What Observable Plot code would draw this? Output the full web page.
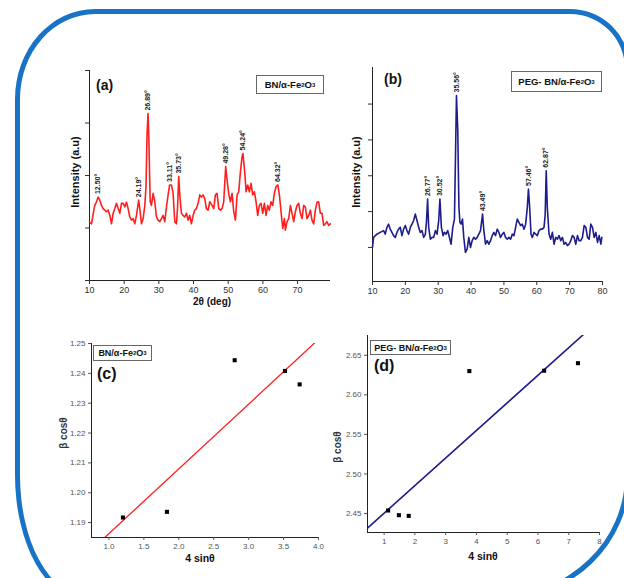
<!DOCTYPE html>
<html><head><meta charset="utf-8">
<script src="https://cdn.jsdelivr.net/npm/d3@7"></script>
<script src="https://cdn.jsdelivr.net/npm/@observablehq/plot@0.6"></script>
<style>
body{margin:0;background:#fff;font-family:"Liberation Sans",Arial,sans-serif;}
#root{position:relative;width:624px;height:578px;overflow:hidden;background:#fff;}
.border{position:absolute;left:15px;top:9px;width:615px;height:591px;box-sizing:border-box;border:5px solid #1872c6;border-radius:80px 60px 130px 70px / 90px 60px 125px 125px;}
.lbl{position:absolute;font-weight:bold;color:#111;white-space:nowrap;line-height:1;}
.rot{transform:translate(-50%,-50%) rotate(-90deg);}
.ctr{transform:translate(-50%,-50%);}
.box{position:absolute;border:1px solid #666;background:#fff;font-weight:bold;font-size:9.5px;color:#111;display:flex;align-items:center;justify-content:center;white-space:nowrap;box-sizing:border-box;}
.box sub{font-size:6px;vertical-align:-2px;}
.tag{position:absolute;font-weight:bold;color:#111;line-height:1;}
</style></head>
<body><div id="root"><div class="border"></div></div>
<script>
// ---- (a) XRD BN/α-Fe2O3 ----
const twoThetaA = [10,10.58,11.25,11.54,12.02,12.5,12.98,13.46,13.94,14.42,14.9,15.38,15.86,16.34,16.82,17.3,17.78,18.26,18.74,19.22,19.7,20.18,20.66,21.14,21.62,22.1,22.58,23.06,23.54,24.19,24.5,24.99,25.47,25.95,26.3,26.6,26.89,27.15,27.5,27.87,28.35,28.83,29.31,29.79,30.27,30.75,31.23,31.71,32.19,32.67,33.11,33.63,34.11,34.59,35.07,35.4,35.73,36.03,36.51,36.99,37.47,37.95,38.43,38.91,39.39,39.87,40.35,40.84,41.32,41.8,42.28,42.76,43.24,43.72,44.2,44.68,45.35,45.83,46.31,46.79,47.27,47.75,48.23,48.71,49.0,49.28,49.7,50.15,50.63,51.11,51.6,52.08,52.56,53.04,53.52,54.0,54.24,54.76,55.15,55.63,56.11,56.59,57.07,57.55,58.03,58.51,58.99,59.47,59.95,60.43,60.91,61.39,61.87,62.35,62.83,63.31,63.8,64.32,64.76,65.24,65.72,66.2,66.49,66.97,67.45,67.93,68.41,68.89,69.37,69.85,70.33,70.81,71.29,71.77,72.25,72.73,73.21,73.69,74.17,74.65,75.13,75.61,76.09,76.57,77.05,77.53,78.01,78.49,78.97,79.45];
const intensityA = [112,108,134,143,150,159,153,143,137,134,131,134,124,108,128,137,147,137,128,147,147,140,149,137,121,115,118,108,124,153,137,108,118,143,180,280,318,260,150,143,166,150,121,115,112,118,124,112,140,163,182,182,166,112,108,140,198,163,128,124,121,128,115,124,108,124,134,137,147,163,159,163,156,137,134,150,143,137,163,166,137,134,137,150,185,217,190,165,150,166,131,115,163,169,207,236,242,207,169,182,169,185,163,169,150,124,143,147,128,147,124,143,134,150,143,166,179,182,163,131,99,118,96,112,118,143,128,112,131,143,147,128,118,143,140,118,124,134,115,108,134,149,150,128,128,105,108,112,105,108];
const peaksA = [12.50, 24.19, 26.89, 33.11, 35.73, 49.28, 54.24, 64.32];
const xTicksA = [10,20,30,40,50,60,70];
const yTicksA = [0,100,200,300,400];

// ---- (b) XRD PEG- BN/α-Fe2O3 ----
const twoThetaB = [10,10.32,11.33,12.35,13.37,13.88,14.39,14.9,15.4,15.91,16.42,16.93,17.44,17.95,18.46,18.96,19.47,19.98,20.49,21.0,21.51,22.02,22.52,23.03,23.54,24.05,24.56,25.07,25.58,26.09,26.45,26.77,27.1,27.61,28.12,28.63,29.14,29.65,30.15,30.52,30.97,31.48,31.88,32.39,32.9,33.41,33.92,34.43,34.94,35.3,35.56,35.95,36.3,36.6,36.97,37.38,37.78,38.29,38.8,39.31,39.82,40.33,40.84,41.34,41.85,42.36,42.87,43.49,43.89,44.4,44.91,45.41,45.92,46.43,46.94,47.45,47.96,48.47,48.98,49.49,50.0,50.5,51.01,51.52,52.03,52.54,53.05,53.56,54.06,54.57,55.08,55.59,56.1,56.61,57.12,57.46,57.83,58.24,58.64,59.15,59.66,60.17,60.68,61.19,61.69,62.2,62.55,62.87,63.2,63.73,64.24,64.75,65.25,65.76,66.27,66.78,67.29,67.8,68.31,68.81,69.32,69.83,70.34,70.85,71.36,71.87,72.38,72.88,73.39,73.9,74.41,74.92,75.43,75.94,76.44,76.95,77.46,77.97,78.48,78.99,79.5,79.8];
const intensityB = [100,128,137,142,147,137,156,165,151,142,133,128,142,151,156,133,151,161,147,137,156,165,175,193,175,156,142,147,128,137,175,235,156,123,128,128,147,137,175,235,156,133,142,137,147,128,109,156,179,379,524,426,212,170,165,179,128,86,95,128,100,119,128,123,128,137,147,193,147,109,119,109,119,133,142,133,151,142,128,137,142,128,123,128,123,137,133,156,179,170,161,165,151,165,212,263,212,137,128,142,137,133,147,151,151,156,190,314,212,137,123,142,109,128,123,133,119,128,109,114,105,109,119,133,128,109,133,119,119,128,161,156,128,123,165,156,128,142,114,133,109,128];
const peaksB = [26.77, 30.52, 35.56, 43.49, 57.46, 62.87];
const xTicksB = [10,20,30,40,50,60,70,80];
const yTicksB = [100,200,300,400,500];

// ---- (c) Williamson-Hall BN/α-Fe2O3 ----
const sinC = [1.20, 1.83, 2.80, 3.52, 3.73];
const cosC = [1.1917, 1.1936, 1.2444, 1.2408, 1.2363];
const xTicksC = [1.0,1.5,2.0,2.5,3.0,3.5,4.0];
const yTicksC = [1.19,1.20,1.21,1.22,1.23,1.24,1.25];

// ---- (d) Williamson-Hall PEG- BN/α-Fe2O3 ----
const sinD = [1.13, 1.48, 1.80, 3.77, 6.20, 7.30];
const cosD = [2.4538, 2.4479, 2.4470, 2.6300, 2.6305, 2.6400];
const xTicksD = [1,2,3,4,5,6,7,8];
const yTicksD = [2.45,2.50,2.55,2.60,2.65];

const root = document.getElementById("root");
function place(svg, left, top){
  const d = document.createElement("div");
  d.style.cssText = `position:absolute;left:${left}px;top:${top}px;`;
  d.appendChild(svg); root.appendChild(d);
}
function addHTML(html){ root.insertAdjacentHTML("beforeend", html); }

function series(xs, ys){ return xs.map((t,i)=>({t, v: ys[i]})); }
function peakRows(data, peaks){
  return peaks.map(p => {
    const near = data.filter(d => Math.abs(d.t - p) < 0.45);
    return {t: p, v: d3.max(near, d => d.v), label: p.toFixed(2) + "°"};
  });
}
function fitLine(xs, ys, dom){
  const mx = d3.mean(xs), my = d3.mean(ys);
  const b = d3.sum(xs, (x,i)=>(x-mx)*(ys[i]-my)) / d3.sum(xs, x=>(x-mx)**2);
  const a = my - b*mx;
  return dom.map(x => ({x, y: a + b*x}));
}
const baseStyle = {fontFamily:'"Liberation Sans", Arial, sans-serif', background:"transparent", overflow:"visible"};

// (a)
const dataA = series(twoThetaA, intensityA);
place(Plot.plot({
  width:300, height:260, marginLeft:49, marginRight:10, marginTop:15, marginBottom:35,
  x:{domain:[10,79.5]}, y:{domain:[0,400]},
  style:{...baseStyle, fontSize:"9px", color:"#333"},
  marks:[
    Plot.ruleX([10],{stroke:"#222"}), Plot.ruleY([0],{stroke:"#222"}),
    Plot.axisX({ticks:xTicksA, tickSize:4, tickPadding:2, label:null}),
    Plot.axisY({ticks:yTicksA, tickSize:4, tickFormat:()=>"", label:null}),
    Plot.line(dataA,{x:"t", y:"v", stroke:"#ff1f1f", strokeWidth:1.6}),
    Plot.text(peakRows(dataA, peaksA),{x:"t", y:"v", text:"label", rotate:-90, textAnchor:"start", dy:-3, fontSize:7, fontWeight:"bold", fill:"#222"})
  ]
}), 40, 55);

// (b)
const dataB = series(twoThetaB, intensityB);
place(Plot.plot({
  width:290, height:260, marginLeft:42, marginRight:18, marginTop:17, marginBottom:29,
  x:{domain:[10,80]}, y:{domain:[5,602]},
  style:{...baseStyle, fontSize:"9px", color:"#333"},
  marks:[
    Plot.ruleX([10],{stroke:"#222"}), Plot.ruleY([5],{stroke:"#222"}),
    Plot.axisX({ticks:xTicksB, tickSize:4, tickPadding:2, label:null}),
    Plot.axisY({ticks:yTicksB, tickSize:4, tickFormat:()=>"", label:null}),
    Plot.line(dataB,{x:"t", y:"v", stroke:"#1d1d8c", strokeWidth:1.6}),
    Plot.text(peakRows(dataB, peaksB),{x:"t", y:"v", text:"label", rotate:-90, textAnchor:"start", dy:-3, fontSize:7, fontWeight:"bold", fill:"#222"})
  ]
}), 330, 50);

// (c)
const domC = [0.75, 4.0];
place(Plot.plot({
  width:275, height:240, marginLeft:36, marginRight:12, marginTop:13, marginBottom:33,
  x:{domain:domC}, y:{domain:[1.185,1.25]},
  style:{...baseStyle, fontSize:"8px", color:"#555"},
  marks:[
    Plot.ruleX([domC[0]],{stroke:"#222"}), Plot.ruleY([1.185],{stroke:"#222"}),
    Plot.axisX({ticks:xTicksC, tickSize:3, tickPadding:3, tickFormat:".1f", label:null}),
    Plot.axisY({ticks:yTicksC, tickSize:3, tickPadding:3, tickFormat:".2f", label:null}),
    Plot.line(fitLine(sinC, cosC, domC),{x:"x", y:"y", stroke:"#ff1f1f", strokeWidth:1.3, clip:true}),
    Plot.dot(sinC.map((x,i)=>({x, y:cosC[i]})),{x:"x", y:"y", symbol:"square", r:2.3, fill:"#000"})
  ]
}), 55, 330);

// (d)
const domD = [0.46, 8];
place(Plot.plot({
  width:295, height:240, marginLeft:47, marginRight:16, marginTop:10, marginBottom:33,
  x:{domain:domD}, y:{domain:[2.426,2.675]},
  style:{...baseStyle, fontSize:"8px", color:"#555"},
  marks:[
    Plot.ruleX([domD[0]],{stroke:"#222"}), Plot.ruleY([2.426],{stroke:"#222"}),
    Plot.axisX({ticks:xTicksD, tickSize:3, tickPadding:3, label:null}),
    Plot.axisY({ticks:yTicksD, tickSize:3, tickPadding:3, tickFormat:".2f", label:null}),
    Plot.line(fitLine(sinD, cosD, domD),{x:"x", y:"y", stroke:"#1d1d8c", strokeWidth:1.6, clip:true}),
    Plot.dot(sinD.map((x,i)=>({x, y:cosD[i]})),{x:"x", y:"y", symbol:"square", r:2.3, fill:"#000"})
  ]
}), 320, 325);

// text labels, legends, panel tags
addHTML(`
<div class="lbl rot" style="left:75px;top:172px;font-size:11px;">Intensity (a.u)</div>
<div class="lbl ctr" style="left:212px;top:302px;font-size:10px;">2θ (deg)</div>
<div class="lbl rot" style="left:356px;top:172px;font-size:11px;">Intensity (a.u)</div>
<div class="lbl ctr" style="left:200px;top:558px;font-size:10.5px;">4 sinθ</div>
<div class="lbl rot" style="left:64px;top:433px;font-size:10px;color:#333;">β cosθ</div>
<div class="lbl ctr" style="left:483px;top:556px;font-size:10.5px;">4 sinθ</div>
<div class="lbl rot" style="left:338px;top:447px;font-size:10px;color:#333;">β cosθ</div>
<div class="box" style="left:256px;top:75px;width:68px;height:19px;">BN/α-Fe<sub>2</sub>O<sub>3</sub></div>
<div class="box" style="left:511px;top:71px;width:91px;height:21px;">PEG- BN/α-Fe<sub>2</sub>O<sub>3</sub></div>
<div class="box" style="left:93px;top:345px;width:59px;height:16px;font-size:9px;">BN/α-Fe<sub>2</sub>O<sub>3</sub></div>
<div class="box" style="left:370px;top:340px;width:81px;height:15px;font-size:9px;">PEG- BN/α-Fe<sub>2</sub>O<sub>3</sub></div>
<div class="tag" style="left:96px;top:78px;font-size:14px;">(a)</div>
<div class="tag" style="left:384px;top:72px;font-size:14px;">(b)</div>
<div class="tag" style="left:97px;top:366px;font-size:16px;">(c)</div>
<div class="tag" style="left:374px;top:358px;font-size:16px;">(d)</div>
`);
</script>
</body></html>
